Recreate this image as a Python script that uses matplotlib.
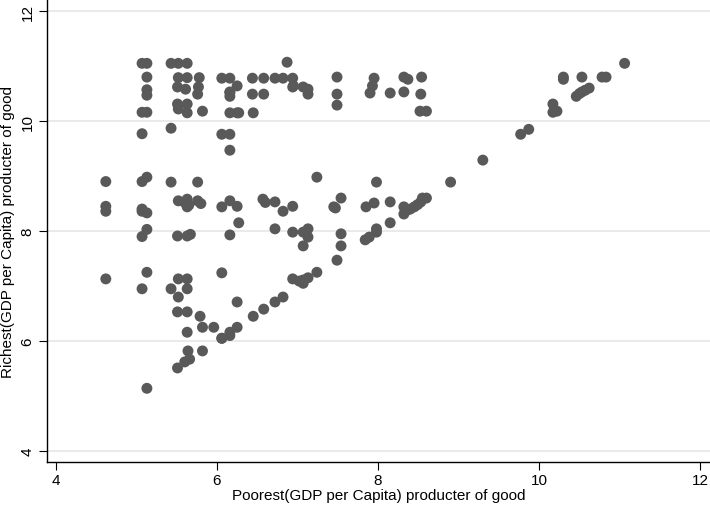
import matplotlib.pyplot as plt
import numpy as np

# log GDP per capita of the poorest and the richest producer of each good
poorest = [
    4.62, 4.62, 4.62, 4.62,
    5.07, 5.13, 5.13, 5.13, 5.13, 5.07, 5.13, 5.07, 5.07, 5.13, 5.07, 5.07, 5.13, 5.13, 5.07, 5.13, 5.07, 5.13,
    5.43, 5.52, 5.63, 5.52, 5.63, 5.78, 5.51, 5.61, 5.77, 5.76, 5.51, 5.63, 5.52, 5.63, 5.82,
    5.43, 5.43, 5.76, 5.52, 5.63, 5.63, 5.76, 5.80, 5.60, 5.65,
    5.51, 5.63, 5.67, 5.52, 5.63, 5.43, 5.63, 5.52, 5.51, 5.63, 5.79,
    5.63, 5.82, 5.64, 5.60, 5.66, 5.51,
    6.06, 6.16, 6.16, 6.25, 6.16, 6.16, 6.25, 6.16, 6.27, 6.06, 6.16, 6.16,
    6.06, 6.16, 6.25, 6.27, 6.16, 6.06, 6.06, 6.16, 6.25, 6.06, 6.16, 6.25, 5.82, 5.96,
    6.44, 6.58, 6.72, 6.82, 6.94, 6.95, 6.44, 6.58, 6.45, 6.87, 7.07, 7.13, 7.13, 6.94,
    6.57, 6.72, 6.82, 6.94, 6.60, 6.72, 6.94, 6.45, 6.58, 6.72, 6.82, 6.94, 7.02,
    7.07, 7.13, 7.07, 7.13, 7.13, 7.07, 7.07, 7.24, 7.24,
    7.49, 7.49, 7.49, 7.49, 7.54, 7.54, 7.54, 7.47, 7.45,
    7.95, 7.93, 7.90, 8.15, 8.32, 8.37, 8.32, 8.54, 8.53, 8.52, 8.60, 7.98,
    7.85, 7.95, 8.15, 7.98, 8.15, 7.84, 7.89, 7.98, 8.32, 8.32, 8.36, 8.40, 8.45, 8.49, 8.53, 8.55, 8.60,
    8.90, 9.30, 9.77, 9.87, 10.17, 10.17, 10.22, 10.30, 10.30, 10.53,
    10.46, 10.50, 10.53, 10.57, 10.62, 10.78, 10.83, 11.06,
]
richest = [
    8.90, 8.45, 8.36, 7.13,
    11.05, 11.05, 10.80, 10.57, 10.47, 10.16, 10.16, 9.77, 8.90, 8.98, 8.40, 8.36, 8.33, 8.03, 7.90, 7.25, 6.95, 5.14,
    11.05, 11.05, 11.05, 10.79, 10.79, 10.79, 10.62, 10.58, 10.62, 10.49, 10.31, 10.31, 10.22, 10.15, 10.18,
    9.87, 8.89, 8.89, 8.55, 8.58, 8.44, 8.55, 8.50, 8.52, 8.47,
    7.91, 7.91, 7.94, 7.13, 7.13, 6.95, 6.95, 6.80, 6.53, 6.53, 6.45,
    6.16, 5.82, 5.82, 5.62, 5.67, 5.51,
    10.78, 10.78, 10.53, 10.64, 10.45, 10.15, 10.15, 9.76, 10.15, 9.76, 9.47, 10.52,
    8.44, 8.55, 8.45, 8.15, 7.93, 7.24, 6.05, 6.16, 6.25, 6.05, 6.10, 6.71, 6.25, 6.25,
    10.78, 10.78, 10.78, 10.78, 10.78, 10.64, 10.49, 10.49, 10.15, 11.07, 10.62, 10.58, 10.49, 10.62,
    8.58, 8.53, 8.36, 8.45, 8.52, 8.04, 7.98, 6.45, 6.58, 6.71, 6.80, 7.13, 7.09,
    7.11, 7.15, 7.05, 8.04, 7.89, 7.73, 7.98, 8.98, 7.25,
    10.80, 10.49, 10.29, 7.47, 8.60, 7.95, 7.73, 8.42, 8.44,
    10.78, 10.64, 10.51, 10.51, 10.80, 10.76, 10.53, 10.80, 10.49, 10.18, 10.18, 8.89,
    8.44, 8.51, 8.53, 7.98, 8.15, 7.84, 7.89, 8.04, 8.44, 8.31, 8.38, 8.40, 8.44, 8.48, 8.53, 8.60, 8.60,
    8.89, 9.29, 9.76, 9.85, 10.31, 10.16, 10.18, 10.80, 10.76, 10.80,
    10.45, 10.50, 10.53, 10.56, 10.60, 10.80, 10.80, 11.05,
]

xticks = [4, 6, 8, 10, 12]
yticks = [4, 6, 8, 10, 12]

plt.rcParams['font.family'] = ['Liberation Sans', 'DejaVu Sans']

fig = plt.figure(figsize=(7.10, 5.06), dpi=100)
ax = fig.add_axes([47 / 710, 43 / 506, 663 / 710, 463 / 506])

ax.scatter(poorest, richest, s=62, color='#595959', edgecolors='none', zorder=3)

ax.set_xlim(3.89, 12.12)
ax.set_ylim(3.80, 12.22)
ax.set_xticks(xticks)
ax.set_yticks(yticks)
ax.tick_params(axis='y', labelrotation=90, length=6, width=0.8, labelsize=11, pad=3)
ax.tick_params(axis='x', length=6, width=0.8, labelsize=11, pad=2)
for lab in ax.get_yticklabels():
    lab.set_va('center')

ax.grid(axis='y', color='#e6e6e6', linewidth=1.2, zorder=0)
ax.spines['top'].set_visible(False)
ax.spines['right'].set_visible(False)
ax.spines['left'].set_linewidth(1)
ax.spines['bottom'].set_linewidth(1)

ax.set_xlabel('Poorest(GDP per Capita) producter of good', fontsize=11, labelpad=1)
ax.set_ylabel('Richest(GDP per Capita) producter of good', fontsize=11, labelpad=4)

fig.savefig('out.png', dpi=100)
